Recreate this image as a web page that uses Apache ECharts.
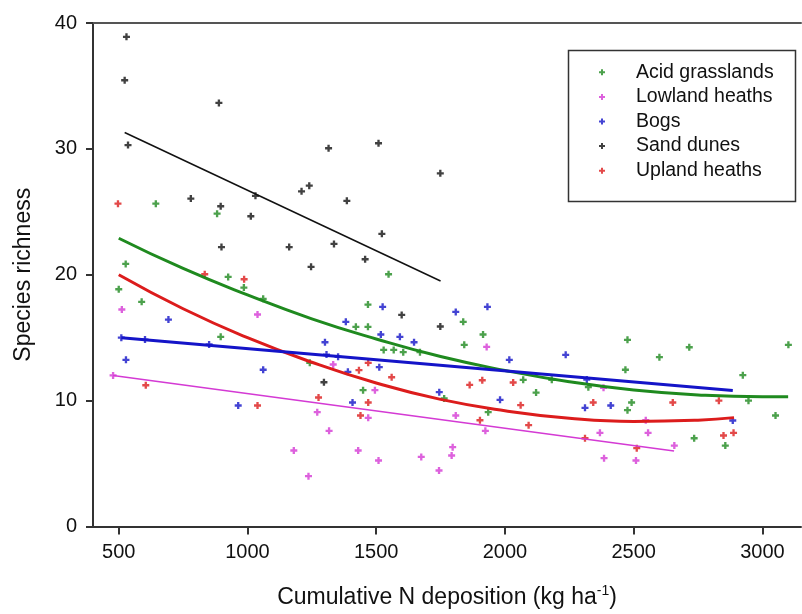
<!DOCTYPE html>
<html>
<head>
<meta charset="utf-8">
<script src="https://cdn.jsdelivr.net/npm/echarts@6/dist/echarts.min.js"></script>
<style>html,body{margin:0;padding:0;background:#fff}#c{width:802px;height:614px}</style>
</head>
<body>
<div id="c"></div>
<script>
// ---- data ----
var seriesNames = ['Acid grasslands', 'Lowland heaths', 'Bogs', 'Sand dunes', 'Upland heaths'];
var xTicks = [500, 1000, 1500, 2000, 2500, 3000];
var yTicks = [0, 10, 20, 30, 40];

var acidPts = [[644,25.65],[882,24.85],[527,20.86],[925,19.83],[986,18.98],[500,18.85],[589,17.85],[1061,18.09],[896,15.07],
  [1548,20.04],[1468,17.63],[1838,16.26],[1421,15.86],[1468,15.86],[1915,15.25],[1842,14.43],[1529,14.03],[1568,14.03],
  [1605,13.85],[1670,13.85],[1242,13.0],[2071,11.65],[2121,10.64],[1764,10.17],[1449,10.83],[1935,9.08],[2476,14.83],
  [2716,14.24],[3101,14.43],[2600,13.45],[2468,12.45],[2924,12.02],[2182,11.65],[2324,11.07],[2492,9.85],[2946,10.0],
  [2476,9.24],[3051,8.82],[2735,7.01],[2856,6.43]];
var lowlandPts = [[478,12.0],[512,17.24],[1039,16.84],[1929,14.27],[1333,12.87],[1495,10.83],[1271,9.08],[1809,8.82],
  [1469,8.63],[1317,7.6],[1924,7.6],[1180,6.04],[1430,6.04],[1797,6.3],[1793,5.64],[1675,5.53],[1509,5.24],[1744,4.45],
  [1237,4.0],[2383,11.02],[2547,8.44],[2369,7.44],[2556,7.44],[2658,6.43],[2385,5.43],[2509,5.24]];
var bogsPts = [[693,16.44],[602,14.85],[851,14.46],[528,13.24],[1061,12.45],[964,9.61],[1525,17.45],[1809,17.05],
  [1932,17.45],[1382,16.26],[1518,15.25],[1592,15.07],[1301,14.64],[1647,14.64],[1307,13.66],[1352,13.48],[2017,13.24],
  [1512,12.66],[1390,12.29],[1745,10.67],[1981,10.06],[1408,9.85],[2236,13.64],[2318,11.68],[2311,9.43],[2411,9.61],
  [2885,8.42],[510,15.0]];
var dunesPts = [[530,38.9],[523,35.45],[536,30.3],[780,26.05],[896,25.44],[889,33.65],[1031,26.27],[1013,24.65],
  [1210,26.63],[1240,27.08],[1315,30.05],[1386,25.87],[1509,30.45],[1749,28.06],[899,22.2],[1162,22.2],[1522,23.25],
  [1336,22.45],[1457,21.23],[1247,20.63],[1599,16.81],[1749,15.89],[1297,11.46]];
var uplandPts = [[497,25.65],[834,20.04],[987,19.64],[605,11.22],[1039,9.61],[1469,13.0],[1433,12.42],[1560,11.86],
  [1912,11.62],[1863,11.25],[2032,11.44],[1276,10.25],[2061,9.64],[1469,9.85],[1439,8.82],[1903,8.44],[2092,8.05],
  [2343,9.85],[2652,9.85],[2831,10.0],[2888,7.44],[2849,7.23],[2311,7.01],[2512,6.22]];

// fitted lines
var acidFit = [[500,22.9],[750,20.5],[1000,18.4],[1250,16.5],[1500,14.9],[1750,13.5],[2000,12.4],[2250,11.5],[2500,10.85],[2750,10.45],[3000,10.3],[3100,10.3]];
var uplandFit = [[500,20.0],[750,17.3],[1000,15.0],[1250,13.05],[1500,11.4],[1750,10.1],[2000,9.2],[2250,8.6],[2500,8.35],[2750,8.45],[2890,8.65]];
var bogsFit = [[510,15.0],[2885,10.8]];
var lowlandFit = [[478,12.0],[2657,6.0]];
var dunesFit = [[523,31.3],[1750,19.5]];

var colors = {acid:'#1f8a1f', lowland:'#d43ad4', bogs:'#1414c8', dunes:'#111111', upland:'#dc1c1c'};
var plus = 'path://M3,0H6V3H9V6H6V9H3V6H0V3H3Z';
var FONT = '"Liberation Sans", Arial, sans-serif';

function scat(name, data, color) {
  return {name: name, type: 'scatter', data: data, symbol: plus, symbolSize: 7,
    itemStyle: {color: color}, z: 3, silent: true};
}
function fit(name, data, color, width, smooth) {
  return {name: name + ' fit', type: 'line', data: data, showSymbol: false, smooth: smooth,
    lineStyle: {color: color, width: width}, z: 4, silent: true};
}

var chart = echarts.init(document.getElementById('c'), null, {renderer: 'canvas'});
chart.setOption({
  animation: false,
  backgroundColor: '#fff',
  textStyle: {fontFamily: FONT},
  grid: {left: 93, right: 1, top: 23, bottom: 87, containLabel: false},
  xAxis: [{
    type: 'value', min: 400, max: 3150, position: 'bottom',
    axisLine: {lineStyle: {color: '#333', width: 2}},
    axisTick: {customValues: xTicks, length: 8, lineStyle: {color: '#333', width: 2}},
    axisLabel: {customValues: xTicks, fontSize: 20, color: '#111', margin: 16, fontFamily: FONT,
      formatter: function (v) { return String(v); }},
    splitLine: {show: false},
    name: 'Cumulative N deposition (kg ha{sup|-1})',
    nameLocation: 'middle', nameGap: 58,
    nameTextStyle: {fontSize: 23, color: '#111', fontFamily: FONT,
      rich: {sup: {fontSize: 14, color: '#111', fontFamily: FONT, verticalAlign: 'top', padding: [0, 0, 12, 0]}}}
  }, {
    type: 'value', min: 400, max: 3150, position: 'top',
    axisLine: {show: true, lineStyle: {color: '#555', width: 2}},
    axisTick: {show: false}, axisLabel: {show: false}, splitLine: {show: false}
  }],
  yAxis: {
    type: 'value', min: 0, max: 40, interval: 10,
    axisLine: {show: true, lineStyle: {color: '#333', width: 2}},
    axisTick: {show: true, length: 7, lineStyle: {color: '#333', width: 2}},
    axisLabel: {fontSize: 20, color: '#111', margin: 16, fontFamily: FONT},
    splitLine: {show: false},
    name: 'Species richness', nameLocation: 'middle', nameGap: 58,
    nameTextStyle: {fontSize: 23, color: '#111', fontFamily: FONT}
  },
  legend: {
    data: seriesNames, orient: 'vertical', left: 599, top: 60,
    itemWidth: 6, itemHeight: 6, itemGap: 0, padding: 0,
    textStyle: {fontSize: 19.5, color: '#111', fontFamily: FONT, lineHeight: 24.6, padding: [0, 0, 0, 26]},
    selectedMode: false
  },
  graphic: [{
    type: 'rect', left: 566, top: 48, shape: {width: 227, height: 151},
    style: {fill: 'none', stroke: '#333', lineWidth: 1.5}, silent: true
  }],
  series: [
    scat(seriesNames[0], acidPts, colors.acid),
    scat(seriesNames[1], lowlandPts, colors.lowland),
    scat(seriesNames[2], bogsPts, colors.bogs),
    scat(seriesNames[3], dunesPts, colors.dunes),
    scat(seriesNames[4], uplandPts, colors.upland),
    fit(seriesNames[0], acidFit, colors.acid, 3, true),
    fit(seriesNames[4], uplandFit, colors.upland, 3, true),
    fit(seriesNames[2], bogsFit, colors.bogs, 3, false),
    fit(seriesNames[1], lowlandFit, colors.lowland, 1.5, false),
    fit(seriesNames[3], dunesFit, colors.dunes, 1.5, false)
  ]
});
</script>
</body>
</html>
